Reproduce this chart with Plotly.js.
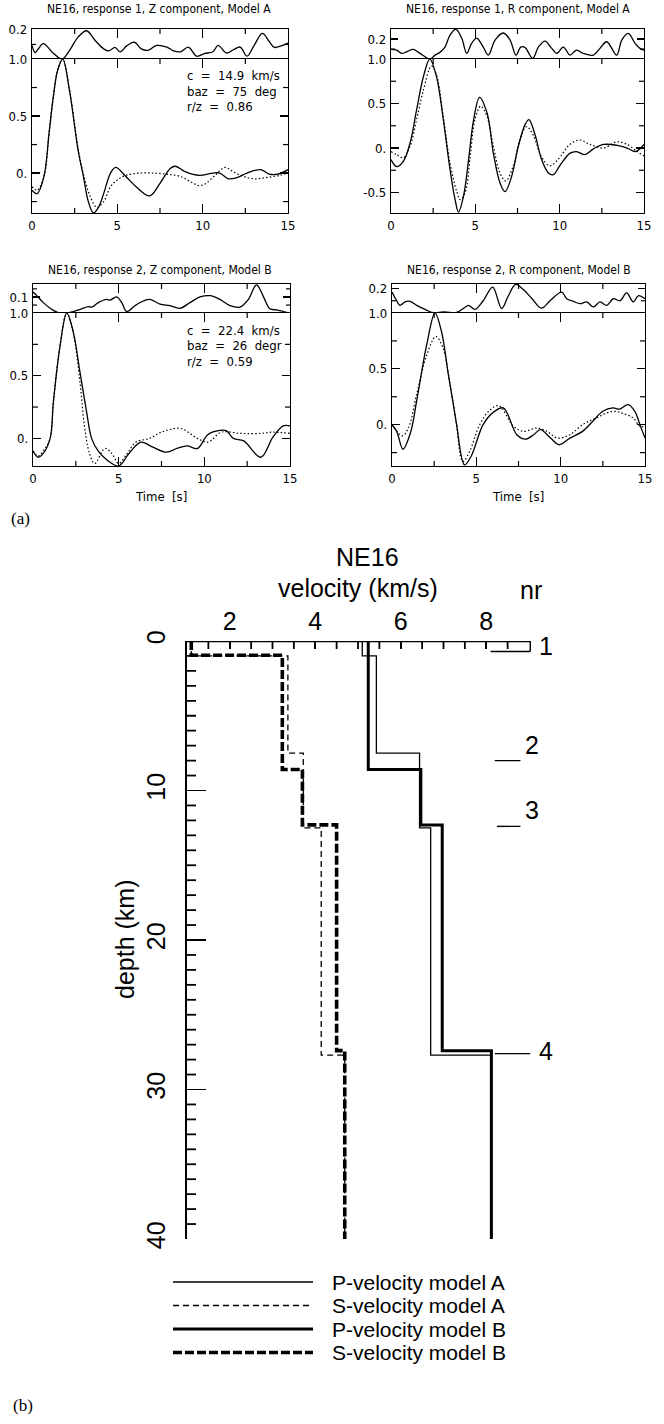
<!DOCTYPE html>
<html><head><meta charset="utf-8">
<script src="https://cdn.plot.ly/plotly-3.0.1.min.js"></script>
<style>html,body{margin:0;padding:0;background:#fff}#chart{width:664px;height:1424px}</style>
</head><body><div id="chart"></div>
<script>
// ================= DATA =================
// (a) panel 1: response 1, Z component, Model A
const z1_t_obs = [0, 0.3, 0.7, 1.0, 1.25, 1.5, 1.8, 2.2, 2.7, 3.0, 3.3, 3.6, 3.9, 4.2, 4.6, 4.9, 5.5, 6.1, 6.9, 7.5, 8.1, 8.4, 9.0, 9.8, 10.6, 11.0, 11.5, 12.0, 12.6, 13.4, 13.9, 14.4, 15];
const z1_obs   = [-0.15, -0.18, -0.03, 0.35, 0.67, 0.9, 1.0, 0.72, 0.2, -0.02, -0.25, -0.35, -0.3, -0.18, 0.0, 0.05, -0.03, -0.12, -0.2, -0.09, 0.04, 0.06, 0.01, -0.02, 0.0, 0.0, -0.05, -0.04, 0.0, 0.03, -0.01, -0.01, 0.03];
const z1_t_syn = [0, 0.3, 0.7, 1.0, 1.25, 1.5, 1.8, 2.2, 2.7, 3.0, 3.4, 3.8, 4.2, 4.6, 5.0, 5.5, 6.3, 7.1, 7.9, 8.7, 9.4, 9.8, 10.2, 10.8, 11.3, 11.8, 12.4, 13.0, 13.7, 14.5, 15];
const z1_syn   = [-0.12, -0.15, -0.03, 0.35, 0.67, 0.9, 1.0, 0.73, 0.22, 0.0, -0.2, -0.3, -0.25, -0.12, -0.06, -0.02, 0.0, 0.0, -0.01, -0.03, -0.085, -0.11, -0.09, -0.01, 0.05, 0.01, -0.03, -0.05, -0.04, -0.02, 0.0];
const z1_t_mis = [0, 0.18, 0.37, 0.66, 1.25, 1.76, 2.2, 2.7, 3.2, 3.7, 4.2, 4.5, 4.86, 5.16, 5.55, 6.0, 6.4, 6.8, 7.3, 7.9, 8.3, 8.7, 9.16, 9.65, 10.1, 10.6, 10.9, 11.4, 11.8, 12.2, 12.6, 13.0, 13.5, 13.9, 14.2, 14.6, 15];
const z1_mis   = [0.093, 0.044, 0.07, 0.105, 0.04, 0.0, 0.06, 0.15, 0.193, 0.127, 0.07, 0.056, 0.08, 0.05, 0.09, 0.115, 0.07, 0.06, 0.093, 0.082, 0.056, 0.05, 0.082, 0.02, 0.038, 0.05, 0.093, 0.042, 0.064, 0.082, 0.02, 0.09, 0.175, 0.12, 0.08, 0.09, 0.11];

// (a) panel 2: response 1, R component, Model A
const r1_t_obs = [0, 0.34, 0.73, 1.13, 1.52, 1.92, 2.3, 2.7, 3.1, 3.5, 3.8, 4.0, 4.3, 4.6, 4.9, 5.25, 5.7, 6.07, 6.46, 6.76, 7.15, 7.55, 7.94, 8.18, 8.54, 8.93, 9.33, 9.62, 10.0, 10.6, 11.0, 11.5, 12.0, 12.6, 13.4, 14.0, 14.5, 15];
const r1_obs   = [-0.13, -0.21, -0.15, 0.056, 0.43, 0.8, 1.0, 0.8, 0.32, -0.24, -0.58, -0.72, -0.54, -0.13, 0.32, 0.57, 0.39, -0.06, -0.39, -0.49, -0.32, 0.02, 0.26, 0.32, 0.15, -0.13, -0.28, -0.3, -0.2, -0.06, -0.04, -0.075, -0.01, 0.04, 0.03, 0.0, -0.04, 0.04];
const r1_t_syn = [0, 0.34, 0.73, 1.13, 1.52, 1.92, 2.4, 2.7, 3.1, 3.5, 3.9, 4.1, 4.4, 4.7, 4.98, 5.32, 5.7, 6.07, 6.46, 6.8, 7.25, 7.64, 8.03, 8.42, 8.9, 9.4, 9.9, 10.6, 11.2, 11.8, 12.6, 13.4, 14.0, 14.6, 15];
const r1_syn   = [-0.04, -0.075, -0.11, 0.02, 0.32, 0.65, 0.92, 0.82, 0.35, -0.17, -0.49, -0.58, -0.5, -0.09, 0.32, 0.47, 0.35, 0.02, -0.28, -0.37, -0.2, 0.09, 0.24, 0.15, -0.09, -0.2, -0.13, 0.04, 0.09, 0.04, 0.0, 0.07, 0.04, -0.04, -0.09];
const r1_t_mis = [0, 0.34, 0.63, 0.93, 1.32, 1.72, 2.11, 2.31, 2.61, 2.9, 3.2, 3.5, 3.85, 4.19, 4.49, 4.78, 5.08, 5.47, 5.77, 6.17, 6.66, 7.06, 7.41, 7.69, 7.94, 8.4, 8.74, 9.13, 9.53, 9.82, 10.22, 10.61, 11.0, 11.4, 12.0, 12.39, 12.79, 13.38, 13.68, 14.07, 14.47, 14.76, 15];
const r1_mis   = [0.097, 0.09, 0.057, 0.073, 0.097, 0.057, 0.013, 0.0, 0.04, 0.067, 0.12, 0.24, 0.297, 0.21, 0.057, 0.157, 0.21, 0.12, 0.04, 0.19, 0.26, 0.19, 0.04, 0.12, 0.117, 0.007, 0.12, 0.18, 0.107, 0.057, 0.12, 0.04, 0.09, 0.057, 0.04, 0.107, 0.173, 0.04, 0.19, 0.257, 0.157, 0.107, 0.09];

// (a) panel 3: response 2, Z component, Model B
const z2_t_obs = [0, 0.3, 0.6, 1.0, 1.19, 1.58, 1.97, 2.35, 2.74, 3.13, 3.42, 3.8, 4.3, 5.0, 5.6, 6.3, 7.0, 7.8, 8.4, 9.0, 9.6, 10.2, 10.9, 11.3, 11.7, 12.3, 13.3, 14.0, 14.6, 15];
const z2_obs   = [-0.1, -0.15, -0.12, 0.0, 0.29, 0.74, 1.0, 0.85, 0.53, 0.21, 0.0, -0.1, -0.17, -0.22, -0.12, -0.03, -0.07, -0.11, -0.08, -0.06, -0.08, 0.03, 0.064, 0.06, 0.0, -0.02, -0.15, 0.01, 0.1, 0.1];
const z2_t_syn = [0, 0.3, 0.6, 1.0, 1.19, 1.58, 1.97, 2.35, 2.74, 3.0, 3.3, 3.6, 4.2, 4.6, 5.0, 5.5, 6.0, 6.8, 7.5, 8.6, 9.6, 10.2, 11.0, 12.1, 13.3, 14.0, 15];
const z2_syn   = [-0.1, -0.14, -0.1, 0.0, 0.29, 0.74, 1.0, 0.84, 0.45, 0.1, -0.12, -0.2, -0.08, -0.12, -0.2, -0.12, -0.03, 0.0, 0.05, 0.08, 0.0, -0.03, 0.05, 0.04, 0.04, 0.05, 0.04];
const z2_t_mis = [0, 0.21, 0.6, 1.19, 1.58, 1.97, 2.35, 2.84, 3.23, 3.42, 3.81, 4.3, 4.49, 4.88, 5.18, 5.47, 5.95, 6.44, 6.83, 7.41, 8.0, 8.58, 9.16, 9.75, 10.33, 10.91, 11.5, 12.08, 12.57, 13.05, 13.44, 13.83, 14.22, 14.61, 15];
const z2_mis   = [0.13, 0.11, 0.065, 0.017, 0.0, 0.0, 0.01, 0.027, 0.04, 0.037, 0.065, 0.085, 0.08, 0.1, 0.065, 0.01, 0.046, 0.075, 0.085, 0.056, 0.046, 0.03, 0.065, 0.1, 0.108, 0.085, 0.046, 0.037, 0.085, 0.175, 0.104, 0.027, 0.02, 0.01, 0.0];

// (a) panel 4: response 2, R component, Model B
const r2_t_obs = [0, 0.28, 0.65, 1.1, 1.46, 2.05, 2.55, 2.94, 3.34, 3.64, 3.83, 4.3, 4.7, 5.4, 6.0, 6.6, 7.4, 7.9, 8.4, 8.8, 9.4, 9.9, 10.55, 11.3, 11.9, 12.5, 13.1, 13.5, 14.0, 14.4, 14.7, 15];
const r2_obs   = [0.0, -0.06, -0.22, -0.07, 0.21, 0.71, 1.0, 0.83, 0.45, 0.18, 0.0, -0.36, -0.28, 0.0, 0.11, 0.15, -0.09, -0.13, -0.09, -0.045, -0.12, -0.18, -0.12, -0.06, 0.03, 0.12, 0.15, 0.14, 0.18, 0.12, 0.0, -0.12];
const r2_t_syn = [0, 0.6, 0.97, 1.46, 2.05, 2.6, 3.04, 3.44, 3.8, 4.2, 4.6, 5.2, 5.8, 6.35, 7.2, 7.8, 8.6, 9.2, 9.8, 10.55, 11.3, 12.1, 13.1, 13.7, 14.3, 14.7, 15];
const r2_syn   = [0.0, -0.1, -0.03, 0.27, 0.62, 0.79, 0.68, 0.36, 0.03, -0.33, -0.24, 0.0, 0.13, 0.17, -0.015, -0.06, -0.03, -0.06, -0.12, -0.09, 0.0, 0.06, 0.12, 0.1, 0.06, -0.015, -0.015];
const r2_t_mis = [0, 0.28, 0.47, 0.77, 1.07, 1.46, 1.96, 2.45, 3.04, 3.44, 3.83, 4.23, 4.53, 4.92, 5.41, 5.97, 6.5, 6.9, 7.33, 7.79, 8.28, 8.87, 9.37, 10.06, 10.36, 10.75, 11.15, 11.54, 11.94, 12.33, 12.73, 13.12, 13.52, 13.91, 14.31, 14.6, 15];
const r2_mis   = [0.17, 0.1, 0.063, 0.09, 0.095, 0.063, 0.03, 0.003, 0.01, 0.005, 0.005, 0.037, 0.063, 0.03, 0.1, 0.21, 0.037, 0.14, 0.232, 0.19, 0.12, 0.04, 0.1, 0.17, 0.116, 0.095, 0.076, 0.09, 0.05, 0.09, 0.063, 0.116, 0.1, 0.163, 0.09, 0.14, 0.116];

const panelTitles = ['NE16, response 1, Z component, Model A', 'NE16, response 1, R component, Model A',
                     'NE16, response 2, Z component, Model B', 'NE16, response 2, R component, Model B'];
const ampLabelAlias = {'0': '0.', '1': '1.0', '\u22120.5': '-0.5'};
const z1_info = ['c  =  14.9  km/s', 'baz  =  75  deg', 'r/z  =  0.86'];
const z2_info = ['c  =  22.4  km/s', 'baz  =  26  degr', 'r/z  =  0.59'];
const timeLabel = 'Time  [s]';

// (b) velocity models: interface depths (km) and layer velocities (km/s)
const pA_z = [0, 1, 7.5, 12.5, 27.7, 40];
const pA_v = [5.1, 5.43, 6.44, 6.70, 8.12];
const sA_z = [0, 1, 7.5, 12.5, 27.7, 40];
const sA_v = [1.1, 3.36, 3.72, 4.14, 4.69];
const pB_z = [0, 8.6, 12.3, 27.4, 40];
const pB_v = [5.24, 6.47, 6.97, 8.12];
const sB_z = [0, 0.95, 8.6, 12.3, 27.4, 40];
const sB_v = [1.1, 3.23, 3.70, 4.50, 4.69];
const nrLabels = ['1', '2', '3', '4'];
const nrDepth = [0.7, 8.0, 12.4, 27.6];
const legendLabels = ['P-velocity model A', 'S-velocity model A', 'P-velocity model B', 'S-velocity model B'];

// ================= LAYOUT HELPERS =================
const W = 664, H = 1424;
const px = x => x / W, py = y => 1 - y / H;
const NF = '"Liberation Sans Narrow","DejaVu Sans Condensed","Arial Narrow",sans-serif';
const AF = '"Liberation Sans",Arial,Helvetica,sans-serif';
const SF = '"Liberation Serif","Times New Roman",serif';
const BLK = '#000';

const traces = [];
const layout = {
  width: W, height: H, autosize: false,
  margin: {l:0, r:0, t:0, b:0, pad:0},
  paper_bgcolor: '#fff', plot_bgcolor: 'rgba(0,0,0,0)',
  showlegend: false,
  annotations: [], shapes: []
};

function steps(from, to, step, skipEvery) {
  const out = [];
  for (let v = from; v <= to + 1e-9; v += step) {
    const r = Math.round(v * 1000) / 1000;
    if (skipEvery && Math.abs(r / skipEvery - Math.round(r / skipEvery)) < 1e-6) continue;
    out.push(r);
  }
  return out;
}
// small inside tick marks (axis decoration), length given in pixels, converted with units-per-pixel
function xTicks(xref, yref, vals, edge, dirUnitsPerPx, len, w) {
  vals.forEach(v => layout.shapes.push({type: 'line', layer: 'above', xref, yref, x0: v, x1: v, y0: edge, y1: edge + dirUnitsPerPx * len,
    line: {color: BLK, width: w || 1.2}}));
}
function yTicks(xref, yref, vals, edge, dirUnitsPerPx, len, w) {
  vals.forEach(v => layout.shapes.push({type: 'line', layer: 'above', xref, yref, y0: v, y1: v, x0: edge, x1: edge + dirUnitsPerPx * len,
    line: {color: BLK, width: w || 1.2}}));
}

const panels = [
  {t:z1_t_obs, o:z1_obs, ts:z1_t_syn, s:z1_syn, tm:z1_t_mis, m:z1_mis, xd:[32,288], misY:[29,59], mainY:[59,213], yr:[-0.35,1.0], mr:[0.001,0.205], mdt:0.2, mminor:0.1, info:z1_info, infoY:[76, 91.5, 107], title:panelTitles[0], tx:159, ty:9, bottom:false},
  {t:r1_t_obs, o:r1_obs, ts:r1_t_syn, s:r1_syn, tm:r1_t_mis, m:r1_mis, xd:[391,644], misY:[29,59], mainY:[59,213], yr:[-0.73,1.0], mr:[0.001,0.3], mdt:0.2, mminor:0.1, info:null, title:panelTitles[1], tx:518, ty:9, bottom:false},
  {t:z2_t_obs, o:z2_obs, ts:z2_t_syn, s:z2_syn, tm:z2_t_mis, m:z2_mis, xd:[33,290], misY:[284,313], mainY:[313,466], yr:[-0.22,1.0], mr:[0.001,0.18], mdt:0.1, mminor:0.05, info:z2_info, infoY:[330, 345.5, 361], title:panelTitles[2], tx:160, ty:270, bottom:true},
  {t:r2_t_obs, o:r2_obs, ts:r2_t_syn, s:r2_syn, tm:r2_t_mis, m:r2_mis, xd:[392,645], misY:[284,313], mainY:[313,466], yr:[-0.37,1.0], mr:[0.001,0.235], mdt:0.2, mminor:0.1, info:null, title:panelTitles[3], tx:519, ty:270, bottom:true}
];

const tfont = {family: NF, size: 13, color: BLK};
const ttlfont = {family: NF, size: 12, color: BLK};

panels.forEach((p, i) => {
  const a = 2*i + 1, b = 2*i + 2;
  const xa = 'x' + (a === 1 ? '' : a), xb = 'x' + b;
  const ya = 'y' + (a === 1 ? '' : a), yb = 'y' + b;
  const lineStyle = {color: BLK, width: 1.3, shape: 'spline', smoothing: 1};
  traces.push({x: p.ts, y: p.s, xaxis: xa, yaxis: ya, mode: 'lines', line: {color: BLK, width: 1.2, dash: '1.5px,2.2px', shape: 'spline', smoothing: 1}, hoverinfo: 'skip'});
  traces.push({x: p.t, y: p.o, xaxis: xa, yaxis: ya, mode: 'lines', line: lineStyle, hoverinfo: 'skip'});
  traces.push({x: p.tm, y: p.m, xaxis: xb, yaxis: yb, mode: 'lines', line: lineStyle, hoverinfo: 'skip', cliponaxis: false});

  const dom = [px(p.xd[0]), px(p.xd[1])];
  layout['xaxis' + (a === 1 ? '' : a)] = {
    domain: dom, range: [0, 15], anchor: ya, showline: true, linecolor: BLK, linewidth: 1.3,
    mirror: 'ticks', ticks: 'inside', ticklen: 9, tickwidth: 1.2, tickcolor: BLK,
    tickmode: 'linear', tick0: 0, dtick: 5, tickfont: tfont,
    showgrid: false, zeroline: false, fixedrange: true
  };
  layout['xaxis' + b] = {
    domain: dom, range: [0, 15], anchor: yb, side: 'top', showline: true, linecolor: BLK, linewidth: 1.3,
    ticks: 'inside', ticklen: 9, tickwidth: 1.2, tickcolor: BLK, tickmode: 'linear', tick0: 0, dtick: 5,
    showticklabels: false, showgrid: false, zeroline: false, fixedrange: true
  };
  layout['yaxis' + (a === 1 ? '' : a)] = {
    domain: [py(p.mainY[1]), py(p.mainY[0])], range: p.yr, anchor: xa, showline: true, linecolor: BLK, linewidth: 1.3,
    mirror: 'ticks', ticks: 'inside', ticklen: 8, tickwidth: 1.2, tickcolor: BLK,
    tickmode: 'linear', tick0: 0, dtick: 0.5, labelalias: ampLabelAlias, tickfont: tfont, ticklabelstandoff: 1,
    showgrid: false, zeroline: false, fixedrange: true
  };
  layout['yaxis' + b] = {
    domain: [py(p.misY[1]), py(p.misY[0])], range: p.mr, anchor: xb, showline: true, linecolor: BLK, linewidth: 1.3,
    mirror: 'ticks', ticks: 'inside', ticklen: 7, tickwidth: 1.2, tickcolor: BLK,
    tickmode: 'linear', tick0: 0, dtick: p.mdt, tickformat: '.1f', tickfont: tfont, ticklabelstandoff: 1,
    showgrid: false, zeroline: false, fixedrange: true
  };
  // minor inside ticks
  const uxp = 15 / (p.xd[1] - p.xd[0]);
  const uyp = (p.yr[1] - p.yr[0]) / (p.mainY[1] - p.mainY[0]);
  const ump = (p.mr[1] - p.mr[0]) / (p.misY[1] - p.misY[0]);
  const tMinor = steps(2.5, 12.5, 5);
  xTicks(xa, ya, tMinor, p.yr[0], uyp, 5);
  xTicks(xa, ya, tMinor, p.yr[1], -uyp, 5);
  xTicks(xb, yb, tMinor, p.mr[1], -ump, 5);
  const aMinor = steps(-0.75, 0.75, 0.5).filter(v => v > p.yr[0] && v < p.yr[1]);
  yTicks(xa, ya, aMinor, 0, uxp, 5);
  yTicks(xa, ya, aMinor, 15, -uxp, 5);
  const mMinor = steps(p.mminor, p.mr[1], p.mminor, p.mdt).filter(v => v < p.mr[1] - 0.01);
  yTicks(xb, yb, mMinor, 0, uxp, 4);
  yTicks(xb, yb, mMinor, 15, -uxp, 4);

  layout.annotations.push({xref: 'paper', yref: 'paper', x: px(p.tx), y: py(p.ty), text: p.title, showarrow: false,
    xanchor: 'center', yanchor: 'middle', font: ttlfont});
  if (p.info) {
    p.info.forEach((s, k) => {
      layout.annotations.push({xref: 'paper', yref: 'paper', x: px(185), y: py(p.infoY[k]), text: s, showarrow: false,
        xanchor: 'left', yanchor: 'middle', font: {family: NF, size: 13, color: BLK}});
    });
  }
  if (p.bottom) {
    layout.annotations.push({xref: 'paper', yref: 'paper', x: (dom[0] + dom[1]) / 2 - 0.001, y: py(497), text: timeLabel, showarrow: false,
      xanchor: 'center', yanchor: 'middle', font: tfont});
  }
});

// ---------- (b) velocity profile ----------
function profile(z, v) {
  const xs = [], ys = [];
  for (let i = 0; i < v.length; i++) { xs.push(v[i], v[i]); ys.push(z[i], z[i + 1]); }
  return {xs, ys};
}
const models = [
  {z: sB_z, v: sB_v, line: {color: BLK, width: 3.6, dash: '9px,3px'}},
  {z: pB_z, v: pB_v, line: {color: BLK, width: 3.0}},
  {z: sA_z, v: sA_v, line: {color: BLK, width: 1.3, dash: '6px,4px'}},
  {z: pA_z, v: pA_v, line: {color: BLK, width: 1.3}}
];
models.forEach(m => {
  const pr = profile(m.z, m.v);
  traces.push({x: pr.xs, y: pr.ys, xaxis: 'x9', yaxis: 'y9', mode: 'lines', line: m.line, hoverinfo: 'skip', cliponaxis: false});
});

const AFONT = {family: AF, size: 25, color: BLK};
const velMax = 9.2, velPx = 42.75, depthPx = (1239 - 641) / 40;
layout.xaxis9 = {
  domain: [px(187), px(187 + (velMax - 1) * velPx)], range: [1, velMax], anchor: 'y9', side: 'top', showline: false,
  ticks: 'inside', ticklen: 8, tickwidth: 1.6, tickcolor: BLK, tickmode: 'linear', tick0: 0, dtick: 2,
  tickfont: AFONT, ticklabelstandoff: 5,
  showgrid: false, zeroline: false, fixedrange: true
};
layout.yaxis9 = {
  domain: [py(1239), py(641)], range: [40, 0], anchor: 'x9', showline: true, linecolor: BLK, linewidth: 2.2,
  ticks: 'inside', ticklen: 19, tickwidth: 1.6, tickcolor: BLK, tickmode: 'linear', tick0: 0, dtick: 10,
  tickangle: -90, tickfont: AFONT, ticklabelstandoff: 10,
  showgrid: false, zeroline: false, fixedrange: true
};
xTicks('x9', 'y9', steps(1.5, 8.5, 0.5, 2), 0, 1 / depthPx, 8, 1.8);
yTicks('x9', 'y9', steps(1, 39, 1, 10), 1, 1 / velPx, 9, 1.8);
// top frame line (ends at 9 km/s, like the original)
layout.shapes.push({type: 'line', xref: 'x9', yref: 'y9', x0: 1, x1: 9.03, y0: 0, y1: 0, line: {color: BLK, width: 2.6}});
// layer interface markers (nr)
const nrSeg = [[8.1, 9.03], [8.2, 8.8], [8.25, 8.8], [8.2, 9.03]];
const nrLab = [[9.27, 0.35, 'left'], [9.07, 6.95, 'center'], [9.07, 11.3, 'center'], [9.33, 27.4, 'left']];
nrDepth.forEach((d, i) => {
  layout.shapes.push({type: 'line', xref: 'x9', yref: 'y9', x0: nrSeg[i][0], x1: nrSeg[i][1], y0: d, y1: d, line: {color: BLK, width: 1.4}});
  layout.annotations.push({xref: 'x9', yref: 'y9', x: Math.min(nrLab[i][0], velMax - 0.01), y: nrLab[i][1], text: nrLabels[i], showarrow: false,
    xanchor: nrLab[i][2], yanchor: 'middle', font: AFONT});
});
layout.shapes.push({type: 'line', xref: 'x9', yref: 'y9', x0: 9.03, x1: 9.03, y0: 0, y1: nrDepth[0], line: {color: BLK, width: 1.4}});

// titles / labels for (b)
layout.annotations.push({xref: 'paper', yref: 'paper', x: px(367), y: py(557), text: 'NE16', showarrow: false, xanchor: 'center', yanchor: 'middle', font: AFONT});
layout.annotations.push({xref: 'paper', yref: 'paper', x: px(358), y: py(588), text: 'velocity (km/s)', showarrow: false, xanchor: 'center', yanchor: 'middle', font: AFONT});
layout.annotations.push({xref: 'paper', yref: 'paper', x: px(531), y: py(590), text: 'nr', showarrow: false, xanchor: 'center', yanchor: 'middle', font: AFONT});
layout.annotations.push({xref: 'paper', yref: 'paper', x: px(125), y: py(940), text: 'depth (km)', textangle: -90, showarrow: false, xanchor: 'center', yanchor: 'middle', font: AFONT});
layout.annotations.push({xref: 'paper', yref: 'paper', x: px(20), y: py(518), text: '(a)', showarrow: false, xanchor: 'center', yanchor: 'middle', font: {family: SF, size: 17, color: BLK}});
layout.annotations.push({xref: 'paper', yref: 'paper', x: px(23), y: py(1405), text: '(b)', showarrow: false, xanchor: 'center', yanchor: 'middle', font: {family: SF, size: 17, color: BLK}});

// legend (drawn by hand, long line samples as in the original)
const legRows = [1282, 1305.5, 1329, 1352.5];
const legStyles = [models[3].line, models[2].line, models[1].line, models[0].line];
legendLabels.forEach((lab, i) => {
  const st = legStyles[i];
  layout.shapes.push({type: 'line', xref: 'paper', yref: 'paper', x0: px(173), x1: px(313), y0: py(legRows[i]), y1: py(legRows[i]),
    line: {color: BLK, width: st.width, dash: st.dash || 'solid'}});
  layout.annotations.push({xref: 'paper', yref: 'paper', x: px(330), y: py(legRows[i]), text: lab, showarrow: false,
    xanchor: 'left', yanchor: 'middle', font: {family: AF, size: 21, color: BLK}});
});

Plotly.newPlot('chart', traces, layout, {staticPlot: true, displayModeBar: false});
</script></body></html>
